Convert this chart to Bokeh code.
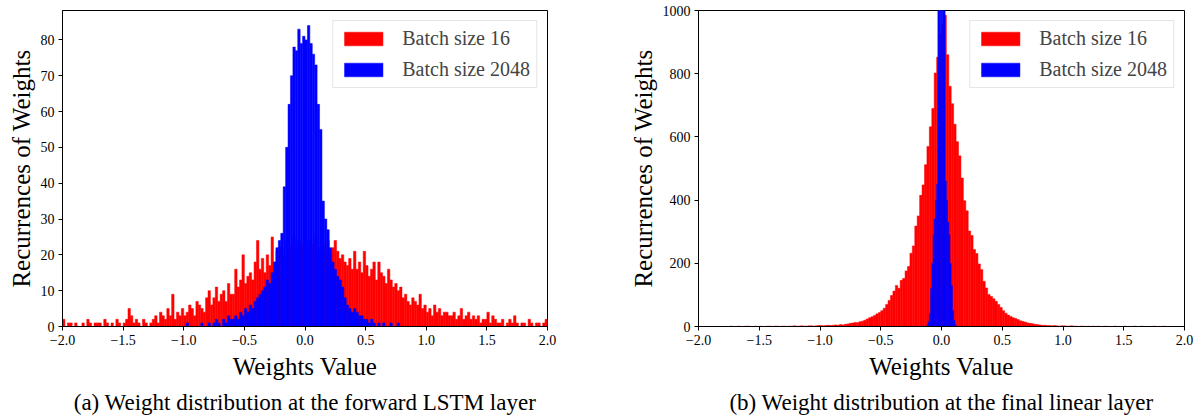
from bokeh.plotting import figure
from bokeh.models import (ColumnDataSource, FixedTicker, CustomJSTickFormatter,
                          Legend, LegendItem, Title, Range1d)
from bokeh.layouts import row
from bokeh.embed import file_html
from bokeh.resources import INLINE

FONT = "Liberation Serif"

# ---------------- data ----------------
series_names = ["Batch size 16", "Batch size 2048"]
x_ticks = [-2.0, -1.5, -1.0, -0.5, 0.0, 0.5, 1.0, 1.5, 2.0]
y_ticks_a = [0, 10, 20, 30, 40, 50, 60, 70, 80]
y_ticks_b = [0, 200, 400, 600, 800, 1000]

# (a) forward LSTM layer, batch size 16: bins of 0.02 starting at -2.0
a_red_start, a_red_width = -2.0, 0.02
a_red_counts = [
    2, 0, 1, 1, 0, 1, 0, 0, 1, 0,
    2, 1, 0, 1, 1, 1, 0, 2, 1, 0,
    1, 0, 2, 1, 0, 1, 2, 5, 3, 1,
    2, 1, 0, 2, 1, 0, 1, 2, 3, 1,
    4, 3, 2, 5, 3, 9, 2, 4, 3, 5,
    3, 4, 6, 5, 3, 7, 6, 5, 4, 8,
    10, 6, 8, 11, 7, 9, 10, 7, 12, 9,
    9, 16, 11, 13, 20, 12, 14, 15, 13, 18,
    24, 16, 19, 15, 20, 17, 25, 18, 21, 22,
    22, 20, 24, 21, 23, 25, 22, 24, 23, 21,
    22, 24, 21, 23, 25, 22, 20, 23, 21, 24,
    20, 22, 24, 21, 19, 20, 18, 17, 19, 16,
    21, 16, 18, 15, 21, 17, 14, 16, 18, 13,
    18, 15, 14, 12, 16, 13, 11, 12, 10, 11,
    8, 9, 7, 6, 8, 7, 6, 9, 5, 6,
    4, 5, 3, 6, 4, 5, 3, 4, 4, 3,
    3, 4, 2, 3, 5, 2, 3, 4, 2, 3,
    2, 3, 1, 2, 2, 4, 1, 3, 2, 1,
    1, 2, 0, 1, 2, 1, 3, 1, 0, 1,
    1, 0, 2, 1, 0, 1, 1, 0, 1, 2,
]
# (a) forward LSTM layer, batch size 2048: bins of 0.02 starting at -1.0
a_blue_start, a_blue_width = -1.0, 0.02
a_blue_counts = [
    0, 1, 0, 0, 0, 0, 0, 1, 0, 0,
    1, 0, 1, 2, 1, 0, 2, 1, 3, 2,
    2, 3, 2, 4, 3, 5, 4, 6, 5, 7,
    8, 9, 10, 11, 13, 12, 15, 18, 22, 24,
    26, 39, 50, 62, 70, 78, 77, 83, 79, 81,
    80, 84, 79, 76, 73, 62, 55, 35, 30, 27,
    22, 18, 16, 14, 13, 11, 8, 6, 5, 4,
    5, 4, 3, 3, 2, 2, 1, 2, 1, 0,
    1, 0, 1, 0, 0, 1, 0, 0, 1, 0,
]

# (b) final linear layer, batch size 16: bins of 0.02 starting at -2.0
b_red_start, b_red_width = -2.0, 0.02
b_red_counts = [
    0, 0, 0, 0, 0, 0, 0, 0, 0, 0,
    0, 0, 0, 1, 0, 0, 1, 0, 0, 1,
    1, 0, 0, 1, 0, 1, 0, 0, 1, 1,
    0, 1, 1, 0, 1, 1, 0, 1, 1, 2,
    1, 1, 2, 1, 1, 2, 2, 1, 2, 3,
    3, 2, 3, 4, 3, 4, 5, 4, 6, 5,
    7, 8, 10, 11, 13, 12, 15, 17, 20, 24,
    28, 31, 35, 40, 44, 50, 58, 70, 82, 98,
    112, 130, 121, 146, 152, 176, 190, 232, 255, 318,
    350, 415, 448, 512, 570, 632, 690, 802, 852, 925,
    955, 985, 860, 760, 705, 640, 585, 540, 470, 398,
    366, 302, 288, 244, 231, 198, 180, 143, 122, 101,
    95, 88, 80, 70, 60, 50, 42, 36, 32, 28,
    25, 22, 18, 16, 14, 11, 10, 9, 7, 6,
    5, 4, 4, 3, 3, 2, 3, 2, 1, 2,
    2, 1, 1, 2, 1, 1, 0, 1, 1, 0,
    1, 0, 1, 0, 1, 0, 0, 1, 0, 0,
    0, 1, 0, 0, 0, 1, 0, 0, 0, 1,
    0, 0, 1, 0, 0, 0, 0, 1, 0, 0,
    0, 1, 0, 0, 0, 0, 0, 0, 0, 0,
]
# (b) final linear layer, batch size 2048: bins of 0.01 starting at -0.12
b_blue_start, b_blue_width = -0.12, 0.01
b_blue_counts = [
    5, 15, 40, 120, 200, 290, 340, 400, 450, 1100, 1800, 2500,
    2500, 1800, 1100, 460, 400, 330, 290, 200, 130, 50, 20, 6,
]

captions = ["(a) Weight distribution at the forward LSTM layer",
            "(b) Weight distribution at the final linear layer"]
x_label = "Weights Value"
y_label = "Recurrences of Weights"


def hist_source(start, width, counts):
    left = [start + i * width for i in range(len(counts))]
    right = [l + width for l in left]
    return ColumnDataSource(dict(left=left, right=right, top=counts,
                                 bottom=[0] * len(counts)))


def panel(red, blue, y_end, y_ticks, caption, border_left, border_right, frame_w):
    p = figure(frame_width=frame_w, frame_height=316,
               min_border_left=border_left, min_border_right=border_right,
               min_border_top=10, min_border_bottom=5,
               x_range=Range1d(-2.0, 2.0), y_range=Range1d(0, y_end),
               output_backend="svg", toolbar_location=None)
    r_red = p.quad(left="left", right="right", top="top", bottom="bottom",
                   source=hist_source(*red), fill_color="#ff0000",
                   line_color="#ff0000", line_width=0.5)
    r_blue = p.quad(left="left", right="right", top="top", bottom="bottom",
                    source=hist_source(*blue), fill_color="#0000ff",
                    line_color="#0000ff", line_width=0.5)

    p.xaxis.ticker = FixedTicker(ticks=x_ticks)
    p.xaxis.formatter = CustomJSTickFormatter(
        code="return (tick < 0 ? '\\u2212' : '') + Math.abs(tick).toFixed(1);")
    p.yaxis.ticker = FixedTicker(ticks=y_ticks)
    p.xaxis.axis_label = x_label
    p.yaxis.axis_label = y_label
    for ax in (p.xaxis[0], p.yaxis[0]):
        ax.major_label_text_font = FONT
        ax.major_label_text_font_size = "14px"
        ax.major_label_text_color = "black"
        ax.axis_label_text_font = FONT
        ax.axis_label_text_font_size = "25px"
        ax.axis_label_text_font_style = "normal"
        ax.axis_label_text_color = "black"
        ax.major_tick_in = 0
        ax.major_tick_out = 4
        ax.minor_tick_in = 0
        ax.minor_tick_out = 0
        ax.major_label_standoff = 4
        ax.axis_label_standoff = 3
        ax.axis_line_color = "black"
        ax.major_tick_line_color = "black"
    p.xaxis.axis_label_standoff = 5
    p.grid.visible = False
    p.outline_line_color = "black"
    p.outline_line_alpha = 1.0

    legend = Legend(items=[LegendItem(label=series_names[0], renderers=[r_red]),
                           LegendItem(label=series_names[1], renderers=[r_blue])],
                    location="top_right", margin=10,
                    glyph_width=48, glyph_height=17, label_standoff=15,
                    label_text_font=FONT, label_text_font_size="20px",
                    label_height=20, spacing=8, padding=6,
                    border_line_color="#cccccc", border_line_width=1,
                    background_fill_alpha=0.8)
    p.add_layout(legend, "center")

    p.add_layout(Title(text=caption, align="center", text_font=FONT,
                       text_font_size="23px", text_font_style="normal",
                       text_color="black", standoff=11), "below")
    return p


p1 = panel((a_red_start, a_red_width, a_red_counts),
           (a_blue_start, a_blue_width, a_blue_counts),
           88.2, y_ticks_a, captions[0], 62, 71, 485)
p2 = panel((b_red_start, b_red_width, b_red_counts),
           (b_blue_start, b_blue_width, b_blue_counts),
           1000, y_ticks_b, captions[1], 80, 13, 486)

layout = row(p1, p2)
open("out.html", "w").write(file_html(layout, INLINE))
